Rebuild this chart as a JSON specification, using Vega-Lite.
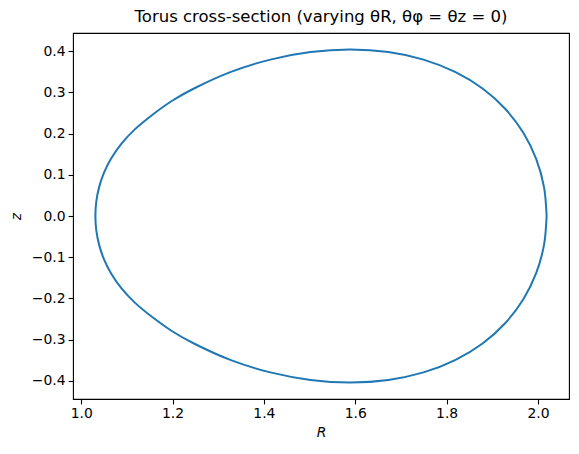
{
  "$schema": "https://vega.github.io/schema/vega-lite/v6.json",
  "width": 496,
  "height": 366,
  "autosize": "none",
  "padding": {"left": 73, "top": 33, "right": 10, "bottom": 55},
  "background": "white",
  "title": {
    "text": "Torus cross-section (varying θR, θφ = θz = 0)",
    "font": "DejaVu Sans",
    "fontSize": 16.5,
    "fontWeight": "normal",
    "color": "black",
    "anchor": "middle",
    "offset": 8
  },
  "config": {
    "view": {"stroke": "black", "strokeWidth": 1.1},
    "axis": {
      "domain": false,
      "grid": false,
      "ticks": true,
      "tickColor": "black",
      "tickSize": 4.9,
      "tickWidth": 1.1,
      "labelFont": "DejaVu Sans",
      "labelFontSize": 13.9,
      "labelColor": "black",
      "labelPadding": 3,
      "titleFont": "DejaVu Sans",
      "titleFontSize": 13.9,
      "titleFontStyle": "italic",
      "titleFontWeight": "normal",
      "titleColor": "black"
    }
  },
  "data": {
    "values": [
      {"i": 0, "R": 2.019, "z": 0.0},
      {"i": 1, "R": 2.0133, "z": 0.0701},
      {"i": 2, "R": 1.9963, "z": 0.138},
      {"i": 3, "R": 1.968, "z": 0.2018},
      {"i": 4, "R": 1.9287, "z": 0.2594},
      {"i": 5, "R": 1.8787, "z": 0.3091},
      {"i": 6, "R": 1.8186, "z": 0.3494},
      {"i": 7, "R": 1.7494, "z": 0.3792},
      {"i": 8, "R": 1.6724, "z": 0.3974},
      {"i": 9, "R": 1.5892, "z": 0.4035},
      {"i": 10, "R": 1.5022, "z": 0.3974},
      {"i": 11, "R": 1.4141, "z": 0.3792},
      {"i": 12, "R": 1.3278, "z": 0.3494},
      {"i": 13, "R": 1.2468, "z": 0.3091},
      {"i": 14, "R": 1.2, "z": 0.28},
      {"i": 15, "R": 1.1555, "z": 0.245},
      {"i": 16, "R": 1.1173, "z": 0.21},
      {"i": 17, "R": 1.0878, "z": 0.175},
      {"i": 18, "R": 1.0658, "z": 0.14},
      {"i": 19, "R": 1.0499, "z": 0.105},
      {"i": 20, "R": 1.0392, "z": 0.07},
      {"i": 21, "R": 1.033, "z": 0.035},
      {"i": 22, "R": 1.031, "z": 0.0},
      {"i": 23, "R": 1.033, "z": -0.035},
      {"i": 24, "R": 1.0392, "z": -0.07},
      {"i": 25, "R": 1.0499, "z": -0.105},
      {"i": 26, "R": 1.0658, "z": -0.14},
      {"i": 27, "R": 1.0878, "z": -0.175},
      {"i": 28, "R": 1.1173, "z": -0.21},
      {"i": 29, "R": 1.1555, "z": -0.245},
      {"i": 30, "R": 1.2, "z": -0.28},
      {"i": 31, "R": 1.2468, "z": -0.3091},
      {"i": 32, "R": 1.3278, "z": -0.3494},
      {"i": 33, "R": 1.4141, "z": -0.3792},
      {"i": 34, "R": 1.5022, "z": -0.3974},
      {"i": 35, "R": 1.5892, "z": -0.4035},
      {"i": 36, "R": 1.6724, "z": -0.3974},
      {"i": 37, "R": 1.7494, "z": -0.3792},
      {"i": 38, "R": 1.8186, "z": -0.3494},
      {"i": 39, "R": 1.8787, "z": -0.3091},
      {"i": 40, "R": 1.9287, "z": -0.2594},
      {"i": 41, "R": 1.968, "z": -0.2018},
      {"i": 42, "R": 1.9963, "z": -0.138},
      {"i": 43, "R": 2.0133, "z": -0.0701},
      {"i": 44, "R": 2.019, "z": 0.0}
    ]
  },
  "mark": {"type": "line", "color": "#1f77b4", "strokeWidth": 2, "interpolate": "catmull-rom", "clip": true},
  "encoding": {
    "x": {
      "field": "R",
      "type": "quantitative",
      "scale": {"domain": [0.982, 2.068], "nice": false, "zero": false},
      "axis": {"values": [1.0, 1.2, 1.4, 1.6, 1.8, 2.0], "format": ".1f", "title": "R", "titlePadding": 5}
    },
    "y": {
      "field": "z",
      "type": "quantitative",
      "scale": {"domain": [-0.4437, 0.4437], "nice": false, "zero": false},
      "axis": {"values": [-0.4, -0.3, -0.2, -0.1, 0.0, 0.1, 0.2, 0.3, 0.4], "format": ".1f", "title": "z", "titlePadding": 8}
    },
    "order": {"field": "i", "type": "quantitative"}
  }
}
